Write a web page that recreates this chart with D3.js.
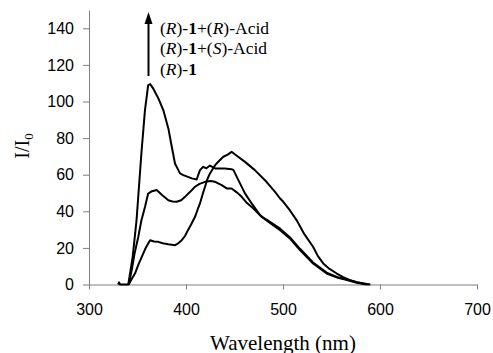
<!DOCTYPE html>
<html>
<head>
<meta charset="utf-8">
<script src="https://cdn.jsdelivr.net/npm/d3@7"></script>
<style>
  body { margin: 0; background: #fff; }
  svg { display: block; }
</style>
</head>
<body>
<div id="chart"></div>
<script>
// wavelengths (nm) and I/I0 values
const wlAcidR = [330, 331, 332, 340.5, 345, 349, 354, 357.7, 361, 363, 366.3, 371.5, 376.6, 381.8, 385, 388.7, 390.4, 393.8, 397.2, 402, 406, 411, 414.4, 417.8, 421, 424.7, 430, 440, 447, 449, 454, 460.8, 467.7, 476.3, 483, 497, 507, 517.5, 531, 545, 556, 566, 576, 586]
const valAcidR = [0, 1.2, 0, 0, 15, 35, 71.6, 95.3, 109, 109.5, 107, 101.7, 95.3, 85.3, 76.2, 66, 64.3, 60.7, 59.8, 58.8, 58, 57.4, 62.5, 64.3, 63.5, 65, 63.4, 63.4, 63, 62.5, 57, 49.8, 44.3, 37.9, 35, 29.7, 25.2, 18.8, 11.5, 6, 3.8, 2.4, 1, 0]

const wlAcidS = [341, 344, 347, 350.8, 354, 357.7, 361, 365, 369.8, 375, 381.8, 386, 390.4, 395, 399, 404, 409.3, 414, 419.6, 425, 430, 436.8, 442, 447, 452, 457.4, 462, 467.7, 478, 483, 497, 507, 517.5, 531, 545, 556, 566, 576, 588]
const valAcidS = [0, 7.8, 17, 26, 35, 42.4, 49.7, 51, 51.6, 49, 46, 45.4, 45.2, 46, 47.9, 50.5, 53.4, 55, 56.1, 56.6, 56.1, 54.3, 52.5, 52.5, 50.5, 47.9, 45, 42.4, 37, 35.5, 30.5, 25.8, 19.5, 12, 6.5, 4, 2.7, 1.2, 0]

const wlFree = [341, 344, 347.4, 351, 354.3, 358, 361, 363, 367, 371.4, 376, 381.8, 388.7, 392, 395.6, 399, 402, 405, 409.3, 412, 414.4, 417, 419.6, 422, 424.7, 430, 434, 438.5, 443, 447, 452, 460.8, 471, 481.4, 491.8, 497, 500.3, 507, 514, 522, 531, 536, 541.5, 548, 555.4, 562, 569, 576, 583, 590]
const valFree = [0, 3, 6, 11, 15, 19.5, 22.4, 24.2, 23.5, 23.3, 22.5, 22, 21.5, 22.5, 24.2, 26.5, 29.7, 32.5, 37, 41, 44.3, 49, 53.4, 57.5, 60.7, 65.2, 67.5, 69.8, 71, 72.5, 70.5, 67, 62.5, 57, 50.6, 47, 45.2, 40.6, 35.2, 27.5, 20.6, 15.5, 11.5, 8.5, 6, 4, 2.4, 1.3, 0.6, 0]

const xTicks = [300, 400, 500, 600, 700]
const yTicks = [0, 20, 40, 60, 80, 100, 120, 140]

let width = 493,
    height = 353

const svg = d3.select("#chart")
  .append("svg")
  .attr("width", width)
  .attr("height", height)

let x = d3.scaleLinear()
  .domain([300, 700])
  .range([89, 477])

let y = d3.scaleLinear()
  .domain([0, 150])
  .range([284.5, 10])

// axes
const xAxis = svg.append("g")
  .attr("transform", "translate(0," + y(0) + ")")
  .call(d3.axisBottom(x).tickValues(xTicks).tickSize(5).tickSizeOuter(0).tickPadding(14))

const yAxis = svg.append("g")
  .attr("transform", "translate(" + x(300) + ",0)")
  .call(d3.axisLeft(y).tickValues(yTicks).tickSize(6).tickSizeOuter(0).tickPadding(9))

svg.selectAll(".domain, .tick line")
  .attr("stroke", "#7f7f7f")
  .attr("stroke-width", 1)

svg.selectAll(".tick text")
  .attr("fill", "#000")
  .style("font-family", "'Liberation Sans', Arial, sans-serif")
  .style("font-size", "16px")

// curves
const line = d3.line()
  .x(d => x(d[0]))
  .y(d => y(d[1]))

const series = [
  d3.zip(wlAcidR, valAcidR),
  d3.zip(wlAcidS, valAcidS),
  d3.zip(wlFree, valFree)
]

svg.append("g")
  .selectAll("path")
  .data(series)
  .enter()
  .append("path")
  .attr("d", line)
  .attr("fill", "none")
  .attr("stroke", "#000")
  .attr("stroke-width", 2)
  .attr("stroke-linejoin", "round")

// axis titles
svg.append("text")
  .attr("x", 283)
  .attr("y", 350)
  .attr("text-anchor", "middle")
  .style("font-family", "'Liberation Serif', 'Times New Roman', serif")
  .style("font-size", "21px")
  .text("Wavelength (nm)")

const yTitle = svg.append("text")
  .attr("transform", "translate(29,146) rotate(-90)")
  .attr("text-anchor", "middle")
  .style("font-family", "'Liberation Serif', 'Times New Roman', serif")
  .style("font-size", "20px")
yTitle.append("tspan").text("I/I")
yTitle.append("tspan").attr("dy", 4).style("font-size", "13px").text("0")

// arrow + labels
svg.append("line")
  .attr("x1", 148.5).attr("x2", 148.5)
  .attr("y1", 76).attr("y2", 22)
  .attr("stroke", "#000")
  .attr("stroke-width", 2)
svg.append("path")
  .attr("d", "M148.5,12 L144.5,24 L152.5,24 Z")
  .attr("fill", "#000")

const labels = [
  [["(", ""], ["R", "i"], [")-", ""], ["1", "b"], ["+(", ""], ["R", "i"], [")-Acid", ""]],
  [["(", ""], ["R", "i"], [")-", ""], ["1", "b"], ["+(", ""], ["S", "i"], [")-Acid", ""]],
  [["(", ""], ["R", "i"], [")-", ""], ["1", "b"]]
]

labels.forEach(function(parts, i) {
  let t = svg.append("text")
    .attr("x", 160)
    .attr("y", 33.5 + i * 20.5)
    .style("font-family", "'Liberation Serif', 'Times New Roman', serif")
    .style("font-size", "17.5px")
  parts.forEach(function(p) {
    t.append("tspan")
      .style("font-style", p[1] == "i" ? "italic" : "normal")
      .style("font-weight", p[1] == "b" ? "bold" : "normal")
      .text(p[0])
  })
})
</script>
</body>
</html>
